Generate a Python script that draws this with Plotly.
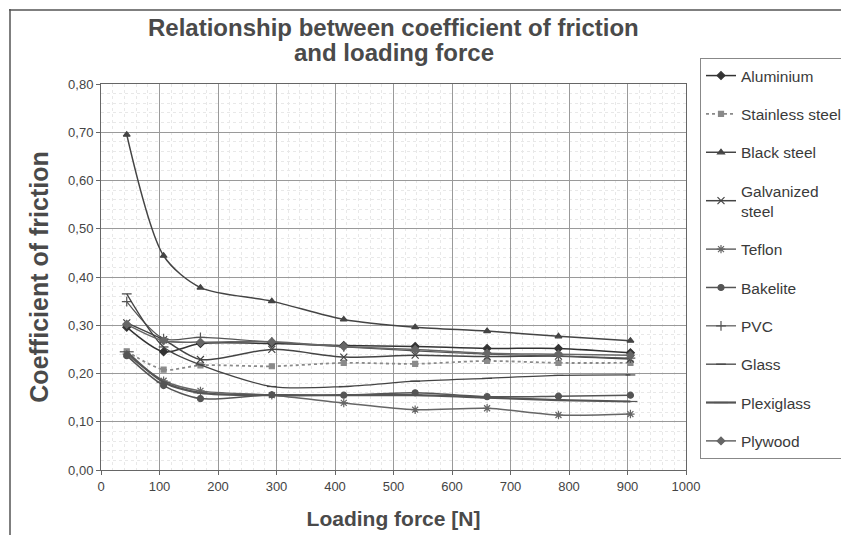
import plotly.graph_objects as go

# ---- data ----
force = [44, 107, 170, 292, 415, 537, 660, 782, 905]

aluminium = [0.296, 0.245, 0.262, 0.262, 0.258, 0.256, 0.252, 0.252, 0.243]
stainless_steel = [0.246, 0.208, 0.217, 0.215, 0.222, 0.220, 0.226, 0.222, 0.222]
black_steel = [0.695, 0.444, 0.378, 0.350, 0.312, 0.296, 0.288, 0.277, 0.268]
galvanized_steel = [0.305, 0.270, 0.229, 0.250, 0.234, 0.238, 0.235, 0.236, 0.230]
teflon = [0.240, 0.185, 0.164, 0.155, 0.139, 0.125, 0.128, 0.114, 0.116]
bakelite = [0.237, 0.175, 0.148, 0.156, 0.155, 0.160, 0.152, 0.153, 0.155]
pvc = [0.349, 0.272, 0.275, 0.265, 0.255, 0.247, 0.240, 0.236, 0.232]
glass = [0.365, 0.255, 0.218, 0.173, 0.173, 0.184, 0.190, 0.196, 0.197]
plexiglass = [0.245, 0.182, 0.160, 0.155, 0.155, 0.155, 0.150, 0.145, 0.142]
plywood = [0.302, 0.268, 0.265, 0.266, 0.256, 0.250, 0.242, 0.240, 0.238]

names = ["Aluminium", "Stainless steel", "Black steel", "Galvanized<br>steel", "Teflon",
         "Bakelite", "PVC", "Glass", "Plexiglass", "Plywood"]
series = [aluminium, stainless_steel, black_steel, galvanized_steel, teflon,
          bakelite, pvc, glass, plexiglass, plywood]

title_line1 = "Relationship between coefficient of friction"
title_line2 = "and loading force"

styles = [
    dict(color="#333333", symbol="diamond", size=6, dash="solid", width=1.5),
    dict(color="#8a8a8a", symbol="square", size=5, dash="dot", width=1.8),
    dict(color="#444444", symbol="triangle-up", size=6, dash="solid", width=1.5),
    dict(color="#444444", symbol="x-thin-open", size=7, dash="solid", width=1.5),
    dict(color="#666666", symbol="asterisk-open", size=7, dash="solid", width=1.5),
    dict(color="#555555", symbol="circle", size=6, dash="solid", width=1.5),
    dict(color="#555555", symbol="cross-thin-open", size=7, dash="solid", width=1.2),
    dict(color="#444444", symbol="line-ew-open", size=7, dash="solid", width=1.3),
    dict(color="#555555", symbol="line-ew-open", size=10, dash="solid", width=2.2),
    dict(color="#666666", symbol="diamond", size=6, dash="solid", width=1.5),
]

FONT = "Liberation Sans, Arial, sans-serif"

fig = go.Figure()
for i, (n, ys, st) in enumerate(zip(names, series, styles)):
    fig.add_trace(go.Scatter(
        x=force, y=ys, name=n, mode="lines+markers",
        legendgroup=str(i),
        line=dict(color=st["color"], width=st["width"], dash=st["dash"], shape="spline", smoothing=0.8),
        marker=dict(symbol=st["symbol"], size=st["size"], color=st["color"],
                    line=dict(color=st["color"], width=1.2)),
    ))

# page body has an 8 px margin; work in screen pixels and subtract it
OFF = 8
SW, SH = 849, 535
W, H = SW - OFF, SH - OFF
L, R, T, B = 101, 686, 84, 470          # plot area in screen pixels

def px(xs):
    return (xs - L) / (R - L)

def py(ys):
    return (B - ys) / (B - T)

title_font = dict(size=24, color="#4a4a4a", family=FONT)

fig.update_layout(
    width=W, height=H,
    margin=dict(l=L - OFF, r=W - (R - OFF), t=T - OFF, b=H - (B - OFF)),
    paper_bgcolor="white", plot_bgcolor="white",
    separators=", ",
    font=dict(family=FONT, color="#444444", size=13),
    showlegend=True,
    legend=dict(xref="container", yref="container",
                x=(700 - OFF) / W, y=1 - (58 - OFF) / H, xanchor="left", yanchor="top",
                bordercolor="#888888", borderwidth=1, bgcolor="white",
                font=dict(size=15.5, color="#3a3a3a", family=FONT),
                tracegroupgap=15.2, traceorder="grouped",
                itemwidth=30, maxheight=480),
    xaxis=dict(range=[0, 1000], dtick=100, tick0=0, automargin=False,
               showgrid=True, gridcolor="#9a9a9a", gridwidth=1,
               showline=True, linecolor="#666666", linewidth=1, mirror=True,
               ticks="outside", ticklen=4, tickcolor="#666666",
               tickfont=dict(size=13, color="#444444"),
               minor=dict(dtick=20, showgrid=True, gridcolor="#e8e8e8", griddash="dot", gridwidth=1),
               title=dict(text="<b>Loading force [N]</b>", font=dict(size=21, color="#4a4a4a"), standoff=18),
               zeroline=False),
    yaxis=dict(range=[0, 0.8], dtick=0.1, tick0=0, tickformat=".2f", automargin=False,
               showgrid=True, gridcolor="#9a9a9a", gridwidth=1,
               showline=True, linecolor="#666666", linewidth=1, mirror=True,
               ticks="outside", ticklen=4, tickcolor="#666666",
               tickfont=dict(size=13, color="#444444"),
               minor=dict(dtick=0.02, showgrid=True, gridcolor="#e8e8e8", griddash="dot", gridwidth=1),
               title=dict(text="<b>Coefficient of friction</b>", font=dict(size=25, color="#4a4a4a"), standoff=12),
               zeroline=False),
    annotations=[
        dict(text="<b>%s</b>" % title_line1, xref="paper", yref="paper", x=0.5, y=py(28),
             xanchor="center", yanchor="middle", showarrow=False, font=title_font),
        dict(text="<b>%s</b>" % title_line2, xref="paper", yref="paper", x=0.5, y=py(53),
             xanchor="center", yanchor="middle", showarrow=False, font=title_font),
    ],
    shapes=[
        dict(type="line", xref="paper", yref="paper", x0=px(9), y0=py(10), x1=px(849), y1=py(10),
             line=dict(color="#555555", width=1.5)),
        dict(type="line", xref="paper", yref="paper", x0=px(10), y0=py(9), x1=px(10), y1=py(535),
             line=dict(color="#555555", width=1.5)),
    ],
)

fig.write_html("out.html")
